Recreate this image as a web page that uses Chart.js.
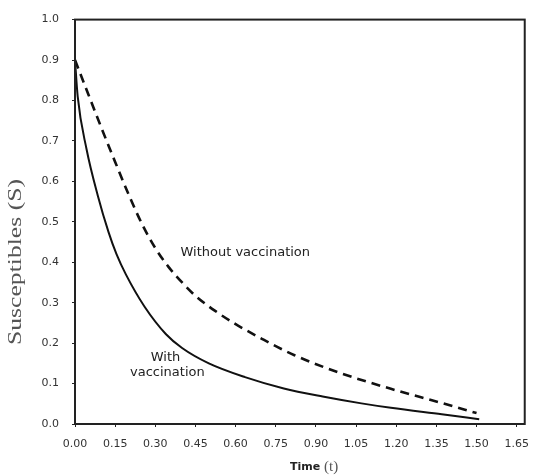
<!DOCTYPE html>
<html>
<head>
<meta charset="utf-8">
<script src="https://cdn.jsdelivr.net/npm/chart.js@4/dist/chart.umd.min.js"></script>
<style>
  html, body { margin: 0; padding: 0; background: #fff; }
  #wrap { width: 540px; height: 476px; position: relative; }
</style>
</head>
<body>
<div id="wrap"><canvas id="c"></canvas></div>
<script>
/* Susceptibles S(t), with vs without vaccination */
var xTicks = [0, 0.15, 0.30, 0.45, 0.60, 0.75, 0.90, 1.05, 1.20, 1.35, 1.50, 1.65];
var yTicks = [0, 0.1, 0.2, 0.3, 0.4, 0.5, 0.6, 0.7, 0.8, 0.9, 1.0];

// with vaccination (solid)
var tWith = [0, 0.01, 0.043, 0.085, 0.125, 0.155, 0.19, 0.26, 0.34, 0.40, 0.50, 0.635, 0.78, 0.925, 1.07, 1.18, 1.37, 1.51];
var sWith = [0.90, 0.81, 0.68, 0.565, 0.475, 0.42, 0.37, 0.29, 0.222, 0.188, 0.15, 0.116, 0.088, 0.068, 0.051, 0.040, 0.024, 0.012];

// without vaccination (dashed)
var tWithout = [0, 0.05, 0.10, 0.15, 0.20, 0.25, 0.30, 0.35, 0.40, 0.45, 0.525, 0.60, 0.70, 0.82, 1.0, 1.18, 1.37, 1.50];
var sWithout = [0.90, 0.815, 0.73, 0.648, 0.568, 0.495, 0.435, 0.388, 0.35, 0.317, 0.279, 0.247, 0.210, 0.170, 0.124, 0.087, 0.052, 0.027];

var ink = '#222';
function pts(t, s) { return t.map(function (v, i) { return { x: v, y: s[i] }; }); }

/* moldura + títulos + rótulos das curvas */
var decor = {
  id: 'decor',
  afterDraw: function (chart) {
    var ctx = chart.ctx, a = chart.chartArea, x = chart.scales.x, y = chart.scales.y;
    ctx.save();
    ctx.strokeStyle = ink; ctx.lineWidth = 2;
    ctx.strokeRect(a.left, a.top, a.right - a.left, a.bottom - a.top);

    ctx.fillStyle = ink;
    ctx.textAlign = 'center'; ctx.textBaseline = 'middle';
    ctx.font = '13px "DejaVu Sans"';
    ctx.fillText('Without vaccination', x.getPixelForValue(0.636), y.getPixelForValue(0.425));
    ctx.fillText('With', x.getPixelForValue(0.338), y.getPixelForValue(0.163));
    ctx.fillText('vaccination', x.getPixelForValue(0.345), y.getPixelForValue(0.126));

    // eixo y: serif, um pouco esticado como no original
    ctx.save();
    ctx.translate(16, 262); ctx.rotate(-Math.PI / 2); ctx.scale(1.35, 1);
    ctx.fillStyle = '#555';
    ctx.font = '19px "Liberation Serif"';
    ctx.fillText('Susceptibles (S)', 0, 0);
    ctx.restore();

    // eixo x: "Time" bold + "(t)" serif
    ctx.textBaseline = 'alphabetic'; ctx.textAlign = 'left';
    ctx.font = 'bold 11px "DejaVu Sans"';
    ctx.fillText('Time', 290, 470);
    ctx.fillStyle = '#555';
    ctx.font = '15px "Liberation Serif"';
    ctx.fillText('(t)', 324, 471);
    ctx.restore();
  }
};

new Chart(document.getElementById('c'), {
  type: 'line',
  data: {
    datasets: [
      { label: 'With vaccination', data: pts(tWith, sWith), borderColor: '#111', borderWidth: 2, pointRadius: 0, cubicInterpolationMode: 'monotone', fill: false },
      { label: 'Without vaccination', data: pts(tWithout, sWithout), borderColor: '#111', borderWidth: 2.6, borderDash: [9, 6], pointRadius: 0, cubicInterpolationMode: 'monotone', fill: false }
    ]
  },
  options: {
    responsive: true, maintainAspectRatio: false, animation: false,
    layout: { padding: { top: 19, right: 3, left: 0, bottom: 0 } },
    plugins: { legend: { display: false }, tooltip: { enabled: false } },
    scales: {
      x: {
        type: 'linear', min: 0, max: 1.68,
        afterBuildTicks: function (s) { s.ticks = xTicks.map(function (v) { return { value: v }; }); },
        afterFit: function (s) { s.height = 52; },
        grid: { drawOnChartArea: false, drawTicks: true, tickLength: 3, color: ink },
        border: { color: ink, width: 2 },
        ticks: { color: '#333', font: { family: 'DejaVu Sans', size: 11 }, padding: 11, maxRotation: 0, autoSkip: false,
                 callback: function (v) { return v.toFixed(2); } }
      },
      y: {
        type: 'linear', min: 0, max: 1.0,
        afterBuildTicks: function (s) { s.ticks = yTicks.map(function (v) { return { value: v }; }); },
        afterFit: function (s) { s.width = 75; },
        grid: { drawOnChartArea: false, drawTicks: true, tickLength: 3, color: ink },
        border: { color: ink, width: 2 },
        ticks: { color: '#333', font: { family: 'DejaVu Sans', size: 11 }, padding: 13,
                 callback: function (v) { return v.toFixed(1); } }
      }
    }
  },
  plugins: [decor]
});
</script>
</body>
</html>
